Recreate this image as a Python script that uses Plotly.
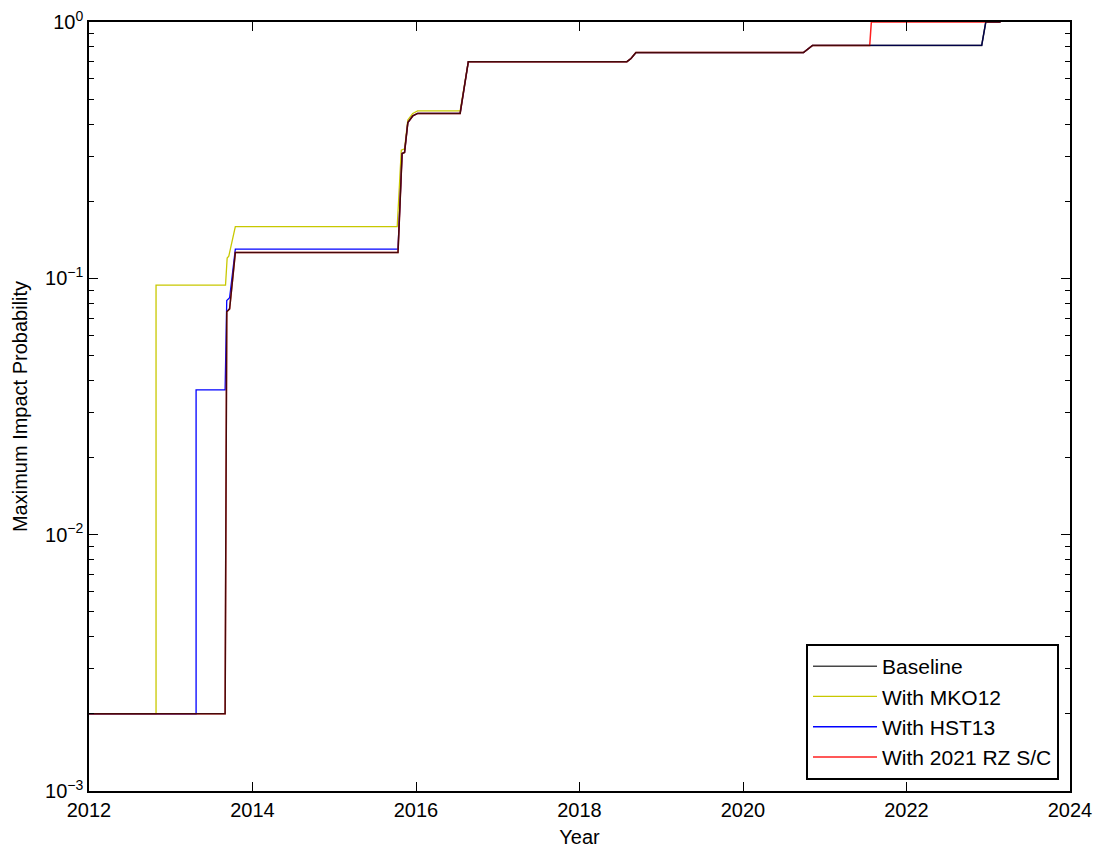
import plotly.graph_objects as go

# Step histories of the maximum impact probability for each observation scenario
baseline_year = [2012.0, 2013.665, 2013.685, 2013.72, 2013.79, 2015.78, 2015.83, 2015.86,
                 2015.90, 2015.96, 2016.02, 2016.54, 2016.64, 2018.58, 2018.63, 2018.69,
                 2020.74, 2020.80, 2020.85, 2022.92, 2022.97, 2023.15]
baseline_p = [0.002, 0.002, 0.074, 0.076, 0.126, 0.126, 0.307, 0.31,
              0.405, 0.43, 0.44, 0.44, 0.70, 0.70, 0.72, 0.76,
              0.76, 0.79, 0.81, 0.81, 1.0, 1.0]

mko12_year = [2012.0, 2012.82, 2012.82, 2013.67, 2013.69, 2013.71, 2013.79, 2015.77,
              2015.82, 2015.86, 2015.90, 2015.96, 2016.02, 2016.54, 2016.64, 2018.58,
              2018.63, 2018.69, 2020.74, 2020.80, 2020.85, 2022.92, 2022.97, 2023.15]
mko12_p = [0.002, 0.002, 0.094, 0.094, 0.12, 0.122, 0.159, 0.159,
           0.316, 0.32, 0.415, 0.44, 0.45, 0.45, 0.70, 0.70,
           0.72, 0.76, 0.76, 0.79, 0.81, 0.81, 1.0, 1.0]

hst13_year = [2012.0, 2013.31, 2013.31, 2013.665, 2013.685, 2013.72, 2013.79, 2015.78,
              2015.83, 2015.86, 2015.90, 2015.96, 2016.02, 2016.54, 2016.64, 2018.58,
              2018.63, 2018.69, 2020.74, 2020.80, 2020.85, 2022.92, 2022.97, 2023.15]
hst13_p = [0.002, 0.002, 0.0367, 0.0367, 0.082, 0.084, 0.13, 0.13,
           0.307, 0.31, 0.405, 0.43, 0.44, 0.44, 0.70, 0.70,
           0.72, 0.76, 0.76, 0.79, 0.81, 0.81, 1.0, 1.0]

rz_year = [2012.0, 2013.665, 2013.685, 2013.72, 2013.79, 2015.78, 2015.83, 2015.86,
           2015.90, 2015.96, 2016.02, 2016.54, 2016.64, 2018.58, 2018.63, 2018.69,
           2020.74, 2020.80, 2020.85, 2021.55, 2021.57, 2023.15]
rz_p = [0.002, 0.002, 0.074, 0.076, 0.126, 0.126, 0.307, 0.31,
        0.405, 0.43, 0.44, 0.44, 0.70, 0.70, 0.72, 0.76,
        0.76, 0.79, 0.81, 0.81, 1.0, 1.0]

x_ticks = [2012, 2014, 2016, 2018, 2020, 2022, 2024]
y_ticks = [1e-3, 1e-2, 1e-1, 1e0]
y_tick_text = ["10<sup>−3</sup>", "10<sup>−2</sup>", "10<sup>−1</sup>", "10<sup>0</sup>"]
y_minor = [m * 10.0 ** e for e in (-3, -2, -1) for m in range(2, 10)]

FONT = "Liberation Sans, Arial, Helvetica, sans-serif"

fig = go.Figure()

# drawing order: yellow, blue, red, then black on top (legend order set by legendrank)
fig.add_trace(go.Scatter(x=mko12_year, y=mko12_p, mode="lines", name="With MKO12",
                         line=dict(color="#c8c800", width=1.3), legendrank=2))
fig.add_trace(go.Scatter(x=hst13_year, y=hst13_p, mode="lines", name="With HST13",
                         line=dict(color="#0000ff", width=1.3), legendrank=3))
fig.add_trace(go.Scatter(x=rz_year, y=rz_p, mode="lines", name="With 2021 RZ S/C",
                         line=dict(color="#ff2020", width=1.5), legendrank=4))
fig.add_trace(go.Scatter(x=baseline_year, y=baseline_p, mode="lines", name="Baseline",
                         line=dict(color="rgba(0,0,0,0.72)", width=1.5), legendrank=1))

axis_common = dict(
    showline=True, linecolor="black", linewidth=1.5, mirror="ticks",
    ticks="inside", ticklen=9, tickwidth=1, tickcolor="black",
    showgrid=False, zeroline=False, automargin=False,
    tickfont=dict(family=FONT, size=20, color="black"),
)

fig.update_xaxes(
    range=[2012, 2024], tickvals=x_ticks, ticklabelstandoff=0,
    title=dict(text="Year", font=dict(family=FONT, size=20, color="black"), standoff=10),
    **axis_common,
)
fig.update_yaxes(
    type="log", range=[-3, 0], tickvals=y_ticks, ticktext=y_tick_text,
    minor=dict(tickvals=y_minor, ticks="inside", ticklen=5, tickcolor="black", tickwidth=1),
    title=dict(text="Maximum Impact Probability",
               font=dict(family=FONT, size=20, color="black"), standoff=12),
    **axis_common,
)

fig.update_layout(
    width=1100, height=848,
    margin=dict(l=89, r=30, t=22, b=57),
    paper_bgcolor="white", plot_bgcolor="white",
    font=dict(family=FONT, size=20, color="black"),
    legend=dict(
        x=0.9888, y=0.0143, xanchor="right", yanchor="bottom",
        bgcolor="white", bordercolor="black", borderwidth=2,
        font=dict(family=FONT, size=21, color="black"),
        tracegroupgap=0, itemwidth=64,
    ),
    showlegend=True,
)

fig.write_html("out.html")
